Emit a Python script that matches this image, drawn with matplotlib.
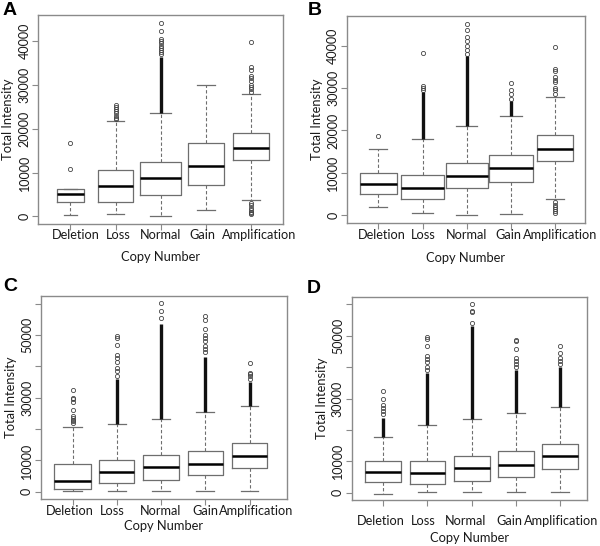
import matplotlib
matplotlib.use("Agg")
import matplotlib.pyplot as plt

plt.rcParams['font.family'] = ['Lato', 'DejaVu Sans']

# --- data ---
categories = ["Deletion", "Loss", "Normal", "Gain", "Amplification"]

# panel A
A_q1 = [3300, 3300, 4850, 7230, 12800]
A_med = [5000, 6900, 8850, 11400, 15700]
A_q3 = [6150, 10600, 12460, 16700, 19100]
A_lo = [400, 500, 0, 1460, 3700]
A_hi = [6300, 21700, 23700, 30000, 28000]
A_out = [[10900, 16800],
         [22200, 22500, 23000, 23500, 24000, 24500, 25000, 25500],
         [37000, 37500, 38000, 38500, 39000, 39500, 40000, 40500, 42300, 44200],
         [],
         [28500, 29000, 29500, 30000, 31000, 31500, 32000, 33500, 34200, 39900,
          3000, 2500, 2000, 1500, 1000, 700, 500]]
A_dense = [None, None, (23700, 36500), None, None]

# panel B
B_q1 = [4900, 3870, 6310, 7900, 12780]
B_med = [7260, 6470, 9310, 11050, 15700]
B_q3 = [10000, 9550, 12230, 14200, 18940]
B_lo = [1970, 400, 0, 300, 3700]
B_hi = [15540, 17900, 21000, 23400, 28000]
B_out = [[18780],
         [29500, 30000, 30500, 38300],
         [38000, 39000, 40000, 41000, 42000, 43600, 45100],
         [27500, 28500, 29500, 31200],
         [28700, 29500, 30000, 31500, 32000, 32500, 34000, 34500, 39800,
          3000, 2500, 2000, 1500, 1000, 500]]
B_dense = [None, (17900, 29000), (21000, 37500), (23400, 27000), None]

# panel C
C_q1 = [950, 2760, 3700, 5200, 7540]
C_med = [3500, 6370, 7860, 9000, 11460]
C_q3 = [8900, 10100, 11700, 13160, 15400]
C_lo = [200, 200, 200, 200, 200]
C_hi = [20600, 21550, 23350, 25370, 27300]
C_out = [[22000, 22500, 23000, 23500, 24100, 26000, 28500, 29500, 30000, 32400],
         [37000, 38500, 39500, 41500, 42500, 43700, 46800, 49000, 49600],
         [55400, 57750, 60200],
         [44500, 45500, 46500, 48000, 49000, 50000, 52000, 54600, 56000],
         [36000, 37000, 37500, 38000, 40900]]
C_dense = [None, (21550, 36000), (23350, 53600), (25370, 43000), (27300, 35000)]

# panel D
D_q1 = [3390, 2860, 3700, 5080, 7630]
D_med = [6570, 6360, 7840, 9000, 11550]
D_q3 = [10060, 10060, 11650, 13240, 15470]
D_lo = [-300, 300, 300, 300, 300]
D_hi = [17800, 21500, 23500, 25400, 27200]
D_out = [[25000, 26000, 27000, 28000, 30000, 32300],
         [39000, 40000, 41500, 42500, 43600, 46600, 49000, 49500],
         [54000, 57500, 58000, 60100],
         [40000, 41000, 42000, 43000, 45800, 48200, 48500],
         [41000, 42000, 43000, 44500, 46600]]
D_dense = [(17800, 23800), (21500, 38100), (23500, 53000), (25400, 39000), (27200, 40000)]

A_yticks = [0, 10000, 20000, 30000, 40000]
A_ylabels = ["0", "10000", "20000", "30000", "40000"]
C_yticks = [0, 10000, 20000, 30000, 40000, 50000, 60000]
C_ylabels = ["0", "10000", "", "30000", "", "50000", ""]

GREY = "#6e6e6e"
FS = 9
PX = 0.72  # points per pixel at dpi 100


def draw_panel(ax, q1, med, q3, lo, hi, out, dense, widths, ylim, yticks, ylabels,
               label_shift, label_drop, xlabel_drop):
    stats = []
    for i in range(len(categories)):
        stats.append(dict(q1=q1[i], med=med[i], q3=q3[i], whislo=lo[i],
                          whishi=hi[i], fliers=out[i]))
    pos = list(range(1, len(categories) + 1))
    ax.bxp(stats, positions=pos, widths=widths, showfliers=True,
           boxprops=dict(color=GREY, linewidth=0.9),
           medianprops=dict(color="black", linewidth=1.8),
           whiskerprops=dict(color=GREY, linewidth=0.8, linestyle=(0, (3, 2))),
           capprops=dict(color=GREY, linewidth=0.9),
           flierprops=dict(marker="o", markersize=3, markerfacecolor="none",
                           markeredgecolor="#444444", markeredgewidth=0.6))
    for i, run in enumerate(dense):
        if run is not None:
            ax.vlines(pos[i], run[0], run[1], color="#111111", linewidth=2.4)
    ax.set_ylim(*ylim)
    ax.set_yticks(yticks)
    ax.set_yticklabels(ylabels, rotation=90, va="center", fontsize=FS)
    ax.set_xticks(pos)
    ax.set_xticklabels([])
    # category labels were nudged sideways by hand in the figure
    for p, name, dx in zip(pos, categories, label_shift):
        ax.annotate(name, xy=(p, 0), xycoords=("data", "axes fraction"),
                    xytext=(dx * PX, -label_drop * PX), textcoords="offset points",
                    ha="center", va="top", fontsize=FS + 0.2, color="#1a1a1a")
    ax.annotate("Copy Number", xy=(0.5, 0), xycoords="axes fraction",
                xytext=(0, -xlabel_drop * PX), textcoords="offset points",
                ha="center", va="center", fontsize=FS + 0.3, color="#1a1a1a")
    for s in ax.spines.values():
        s.set_color("#8a8a8a")
        s.set_linewidth(1.0)
    ax.tick_params(colors="#8a8a8a", labelcolor="#1a1a1a", length=4, width=0.8)
    ax.tick_params(axis="y", pad=1.5)
    ax.set_ylabel("Total Intensity", fontsize=FS + 0.3, color="#1a1a1a", labelpad=3)


fig = plt.figure(figsize=(6.0, 5.46), dpi=100)

axA = fig.add_axes([0.0638, 0.5897, 0.408, 0.3828])
draw_panel(axA, A_q1, A_med, A_q3, A_lo, A_hi, A_out, A_dense,
           [0.6, 0.79, 0.92, 0.8, 0.8], (-1770, 46000), A_yticks, A_ylabels,
           [5, 3, 0, -3, 8], 5, 33)
axA.set_xlim(0.29, 5.71)

axB = fig.add_axes([0.578, 0.592, 0.397, 0.3786])
draw_panel(axB, B_q1, B_med, B_q3, B_lo, B_hi, B_out, B_dense,
           [0.83, 0.96, 0.94, 1.0, 0.81], (-1800, 47000), A_yticks, A_ylabels,
           [4, 1, 0, -3, 5], 6, 35)
axB.set_xlim(0.29, 5.67)

axC = fig.add_axes([0.0678, 0.0866, 0.41, 0.3707])
draw_panel(axC, C_q1, C_med, C_q3, C_lo, C_hi, C_out, C_dense,
           [0.82, 0.79, 0.81, 0.8, 0.81], (-2200, 62300), C_yticks, C_ylabels,
           [-3, -5, 0, 0, 7], 6, 27)
axC.set_xlim(0.28, 5.84)

axD = fig.add_axes([0.586, 0.0848, 0.3927, 0.3712])
draw_panel(axD, D_q1, D_med, D_q3, D_lo, D_hi, D_out, D_dense,
           [0.82, 0.8, 0.81, 0.8, 0.81], (-2200, 62300), C_yticks, C_ylabels,
           [-2, -4, -6, -7, 1], 15, 38)
axD.set_xlim(0.29, 5.61)

for letter, x, y in [("A", 0.005, 0.965), ("B", 0.513, 0.965),
                     ("C", 0.005, 0.46), ("D", 0.512, 0.456)]:
    fig.text(x, y, letter, fontsize=14, fontweight="bold",
             family=["Liberation Sans", "DejaVu Sans"], va="bottom")

fig.savefig("out.png", dpi=100)
